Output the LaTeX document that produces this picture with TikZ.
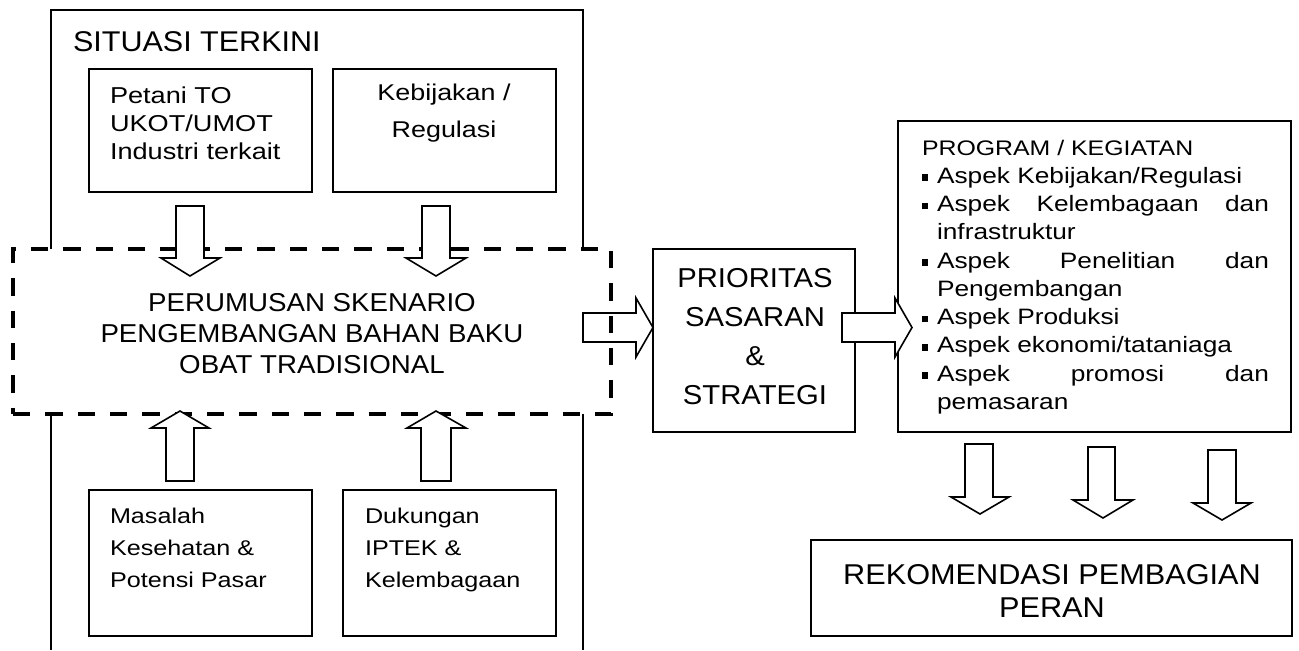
\documentclass[tikz,border=0pt]{standalone}
\usepackage{fontspec}
\setmainfont{Liberation Sans}
\newfontfamily\bigf[FakeStretch=1.07]{Liberation Sans}
\newfontfamily\smf[FakeStretch=1.18]{Liberation Sans}
\usetikzlibrary{fit}
\newcommand\fsz[2]{\fontsize{#1}{#2}\selectfont}
\newcommand\blt{\makebox[11.25pt][l]{\rule[1.6pt]{4.6pt}{5pt}}}
\begin{document}
\begin{tikzpicture}[x=0.75pt,y=-0.75pt,
  box/.style={draw, line width=1.2pt, inner sep=0pt},
  frame/.style={draw, line width=1.2pt},
  dbox/.style={draw, line width=2.3pt, dash pattern=on 13pt off 11.25pt, inner sep=0pt},
  blk/.style={draw, fill=white, line width=1.2pt, line join=miter},
  txt/.style={inner sep=0pt, outer sep=0pt}]
\useasboundingbox (0,0) rectangle (1299,650);

% outer frame of the left column
\draw[frame] (51,249) -- (51,10) -- (583,10) -- (583,249);
\draw[frame] (51,414) -- (51,650);
\draw[frame] (583,414) -- (583,650);

\node[txt, anchor=base west] (sit) at (73,51) {\bigf\fsz{21.4pt}{26pt}SITUASI TERKINI};

% boxes
\node[box, fit={(89,69)(312,192)}] (b1) {};
\node[box, fit={(333,69)(556,192)}] (b2) {};
\node[box, fit={(89,490)(312,636)}] (b3) {};
\node[box, fit={(343,490)(556,636)}] (b4) {};
\node[box, fit={(653,249)(855,432)}] (pri) {};
\node[box, fit={(898,121)(1291,432)}] (prog) {};
\node[box, fit={(811,540)(1292,636)}] (rek) {};

% arrow to PRIORITAS
\draw[blk] (583,313) -- (636,313) -- (636,298) -- (653,327.5) -- (636,357) -- (636,342) -- (583,342) -- cycle;

% dashed scenario box
\node[dbox, fit={(13,249)(611,414)}] (scen) {};

% arrow to PROGRAM
\draw[blk] (842,313) -- (895,313) -- (895,298) -- (912,327.5) -- (895,357) -- (895,342) -- (842,342) -- cycle;

% down arrows into scenario
\draw[blk] (176,206) -- (204,206) -- (204,258) -- (220,258) -- (190,276) -- (161,258) -- (176,258) -- cycle;
\draw[blk] (422,206) -- (450,206) -- (450,258) -- (466,258) -- (436,276) -- (406,258) -- (422,258) -- cycle;
% up arrows into scenario
\draw[blk] (166,481) -- (194,481) -- (194,428) -- (209,428) -- (180,411) -- (151,428) -- (166,428) -- cycle;
\draw[blk] (421,481) -- (451,481) -- (451,428) -- (466,428) -- (436,411) -- (407,428) -- (421,428) -- cycle;
% down arrows to REKOMENDASI
\draw[blk] (965,444) -- (993,444) -- (993,497) -- (1009,497) -- (980,514) -- (951,497) -- (965,497) -- cycle;
\draw[blk] (1088,447) -- (1115,447) -- (1115,500) -- (1133,500) -- (1103,518) -- (1073,500) -- (1088,500) -- cycle;
\draw[blk] (1208,450) -- (1236,450) -- (1236,503) -- (1251,503) -- (1222,520) -- (1193,503) -- (1208,503) -- cycle;

% texts
\node[txt, anchor=base west] (t1) at (110,103) {\parbox[t]{200pt}{\smf\fsz{17.25pt}{21pt}Petani TO\\UKOT/UMOT\\Industri terkait}};
\node[txt, anchor=base] (t2) at (444,100) {\parbox[t]{160pt}{\centering\smf\fsz{17.1pt}{27.75pt}Kebijakan /\\Regulasi}};
\node[txt, anchor=base west] (t3) at (110,523) {\parbox[t]{160pt}{\smf\fsz{16pt}{24pt}Masalah\\Kesehatan \&\\Potensi Pasar}};
\node[txt, anchor=base west] (t4) at (365,523) {\parbox[t]{160pt}{\smf\fsz{16pt}{24pt}Dukungan\\IPTEK \&\\Kelembagaan}};
\node[txt, anchor=base] (t5) at (312,311) {\parbox[t]{440pt}{\centering\bigf\fsz{19.4pt}{23.6pt}PERUMUSAN SKENARIO\\PENGEMBANGAN BAHAN BAKU\\OBAT TRADISIONAL}};
\node[txt, anchor=base] (t6) at (755,287) {\parbox[t]{150pt}{\centering\bigf\fsz{20.5pt}{29.25pt}PRIORITAS\\SASARAN\\\&\\STRATEGI}};
\node[txt, anchor=base] (t7) at (1052,584) {\parbox[t]{340pt}{\centering\bigf\fsz{21.5pt}{24.75pt}REKOMENDASI PEMBAGIAN\\PERAN}};
\node[txt, anchor=base west] (t8) at (922,155) {\parbox[t]{262pt}{\smf\fsz{16.7pt}{21.2pt}%
{\fsz{15.8pt}{21.2pt}PROGRAM / KEGIATAN}\\
\blt Aspek Kebijakan/Regulasi\\
\blt\makebox[249pt][s]{Aspek Kelembagaan dan}\\
\hspace*{11.25pt}infrastruktur\\
\blt\makebox[249pt][s]{Aspek Penelitian dan}\\
\hspace*{11.25pt}Pengembangan\\
\blt Aspek Produksi\\
\blt Aspek ekonomi/tataniaga\\
\blt\makebox[249pt][s]{Aspek promosi dan}\\
\hspace*{11.25pt}pemasaran}};
\end{tikzpicture}
\end{document}
